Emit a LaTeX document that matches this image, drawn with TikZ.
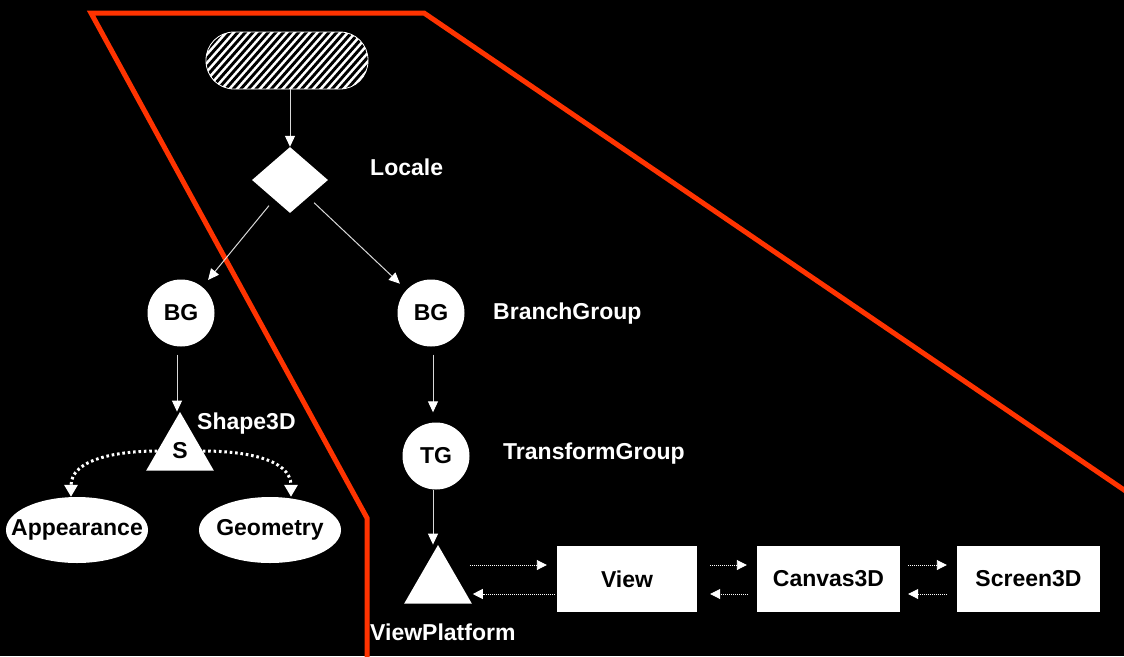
\documentclass[tikz,border=0pt]{standalone}
\usepackage{fontspec}
\setmainfont{Liberation Sans}
\usetikzlibrary{shapes.geometric,arrows.meta}
\definecolor{redline}{RGB}{255,51,0}
\begin{document}
\begin{tikzpicture}[x=1pt,y=-1pt,
  font=\fontsize{23}{27}\selectfont\bfseries,
  lbl/.style={text=white, anchor=base west, inner sep=0},
  wshape/.style={fill=white, text=black, inner sep=0},
  roundnode/.style={wshape, circle, minimum size=67pt},
  trinode/.style={wshape, regular polygon, regular polygon sides=3, minimum size=78pt},
  ellnode/.style={wshape, ellipse, minimum width=142pt, minimum height=66pt},
  boxnode/.style={wshape, rectangle, minimum height=66pt},
  intext/.style={text=black, inner sep=0},
  arr/.style={draw=white!85!black, line width=1pt, -{Triangle[length=11pt,width=10pt,color=white]}},
  dcurve/.style={draw=white, line width=3pt, dash pattern=on 2.6pt off 2.8pt, -{Triangle[length=12pt,width=13pt]}},
  darr/.style={draw=white, line width=0.9pt, dash pattern=on 1pt off 1pt, -{Triangle[length=10pt,width=10pt]}}
]
\fill[black] (0,0) rectangle (1124,656);
\useasboundingbox (0,0) rectangle (1124,656);

% boundary line
\draw[redline, line width=5pt, line join=miter]
  (367,662) -- (367,518) -- (91,13) -- (424,13) -- (1130,494);

% hatched root node
\node[rectangle, rounded corners=28pt, minimum width=162pt, minimum height=57pt,
      draw=white, line width=0.8pt, fill=white, inner sep=0,
      path picture={
        \foreach \i in {-10,...,24}{
          \draw[black, line width=2.9pt]
            ([xshift=\i*7.6pt, yshift=-5pt]path picture bounding box.south west) -- ++(62pt,70pt);
        }
      }] (root) at (287,60.5) {};

% locale
\node[wshape, diamond, minimum width=76pt, minimum height=66pt] (dia) at (290,180) {};
\node[lbl] (loclbl) at (370,175) {Locale};

% branch groups
\node[roundnode] (bgl) at (181,313) {BG};
\node[roundnode] (bgr) at (431,313) {BG};
\node[lbl] (bglbl) at (493,319) {BranchGroup};

% content branch
\node[trinode] (s) at (180,451) {S};
\node[lbl] (slbl) at (197,429) {Shape3D};
\node[ellnode] (app) at (77,530) {};
\node[intext] (apptext) at (app) {Appearance};
\node[ellnode] (geo) at (270,530) {};
\node[intext] (geotext) at (geo) {Geometry};

% view branch
\node[roundnode] (tg) at (436,456) {TG};
\node[lbl] (tglbl) at (503,459) {TransformGroup};
\node[trinode] (vp) at (438,584) {};
\node[lbl] (vplbl) at (370,640) {ViewPlatform};
\node[boxnode, minimum width=140pt] (view) at (627,579) {View};
\node[boxnode, minimum width=143pt] (canvas) at (828.5,579) {Canvas3D};
\node[boxnode, minimum width=143pt] (screen) at (1028.5,579) {Screen3D};

% tree connectors
\draw[arr] (root.south -| dia.north) -- (dia.north);
\draw[arr, shorten <=8pt, shorten >=9pt] (dia) -- (bgl);
\draw[arr, shorten <=8pt, shorten >=9pt] (dia) -- (bgr);
\draw[arr, shorten <=8pt] ([xshift=-4pt]bgl.south) -- ([xshift=-4pt]bgl.south |- s.corner 1);
\draw[arr, shorten <=8pt, shorten >=10pt] ([xshift=2pt]bgr.south) -- ([xshift=2pt]bgr.south |- tg.north);
\draw[arr] ([xshift=-3pt]tg.south) -- ([xshift=-3pt]tg.south |- vp.corner 1);

% shape components
\draw[dcurve] (s.180) to[out=180, in=90] ([xshift=-6pt]app.north);
\draw[dcurve] (s.0) to[out=0, in=90] ([xshift=21pt]geo.north);

% view chain
\draw[darr] ([xshift=-87pt, yshift=14pt]view.west) -- ([xshift=-10pt, yshift=14pt]view.west);
\draw[darr] ([xshift=-2pt, yshift=-15pt]view.west) -- ([xshift=-84pt, yshift=-15pt]view.west);
\draw[darr] ([xshift=13pt, yshift=14pt]view.east) -- ([xshift=-10pt, yshift=14pt]canvas.west);
\draw[darr] ([xshift=-9pt, yshift=-15pt]canvas.west) -- ([xshift=13pt, yshift=-15pt]view.east);
\draw[darr] ([xshift=8pt, yshift=14pt]canvas.east) -- ([xshift=-10pt, yshift=14pt]screen.west);
\draw[darr] ([xshift=-10pt, yshift=-15pt]screen.west) -- ([xshift=8pt, yshift=-15pt]canvas.east);
\end{tikzpicture}
\end{document}
